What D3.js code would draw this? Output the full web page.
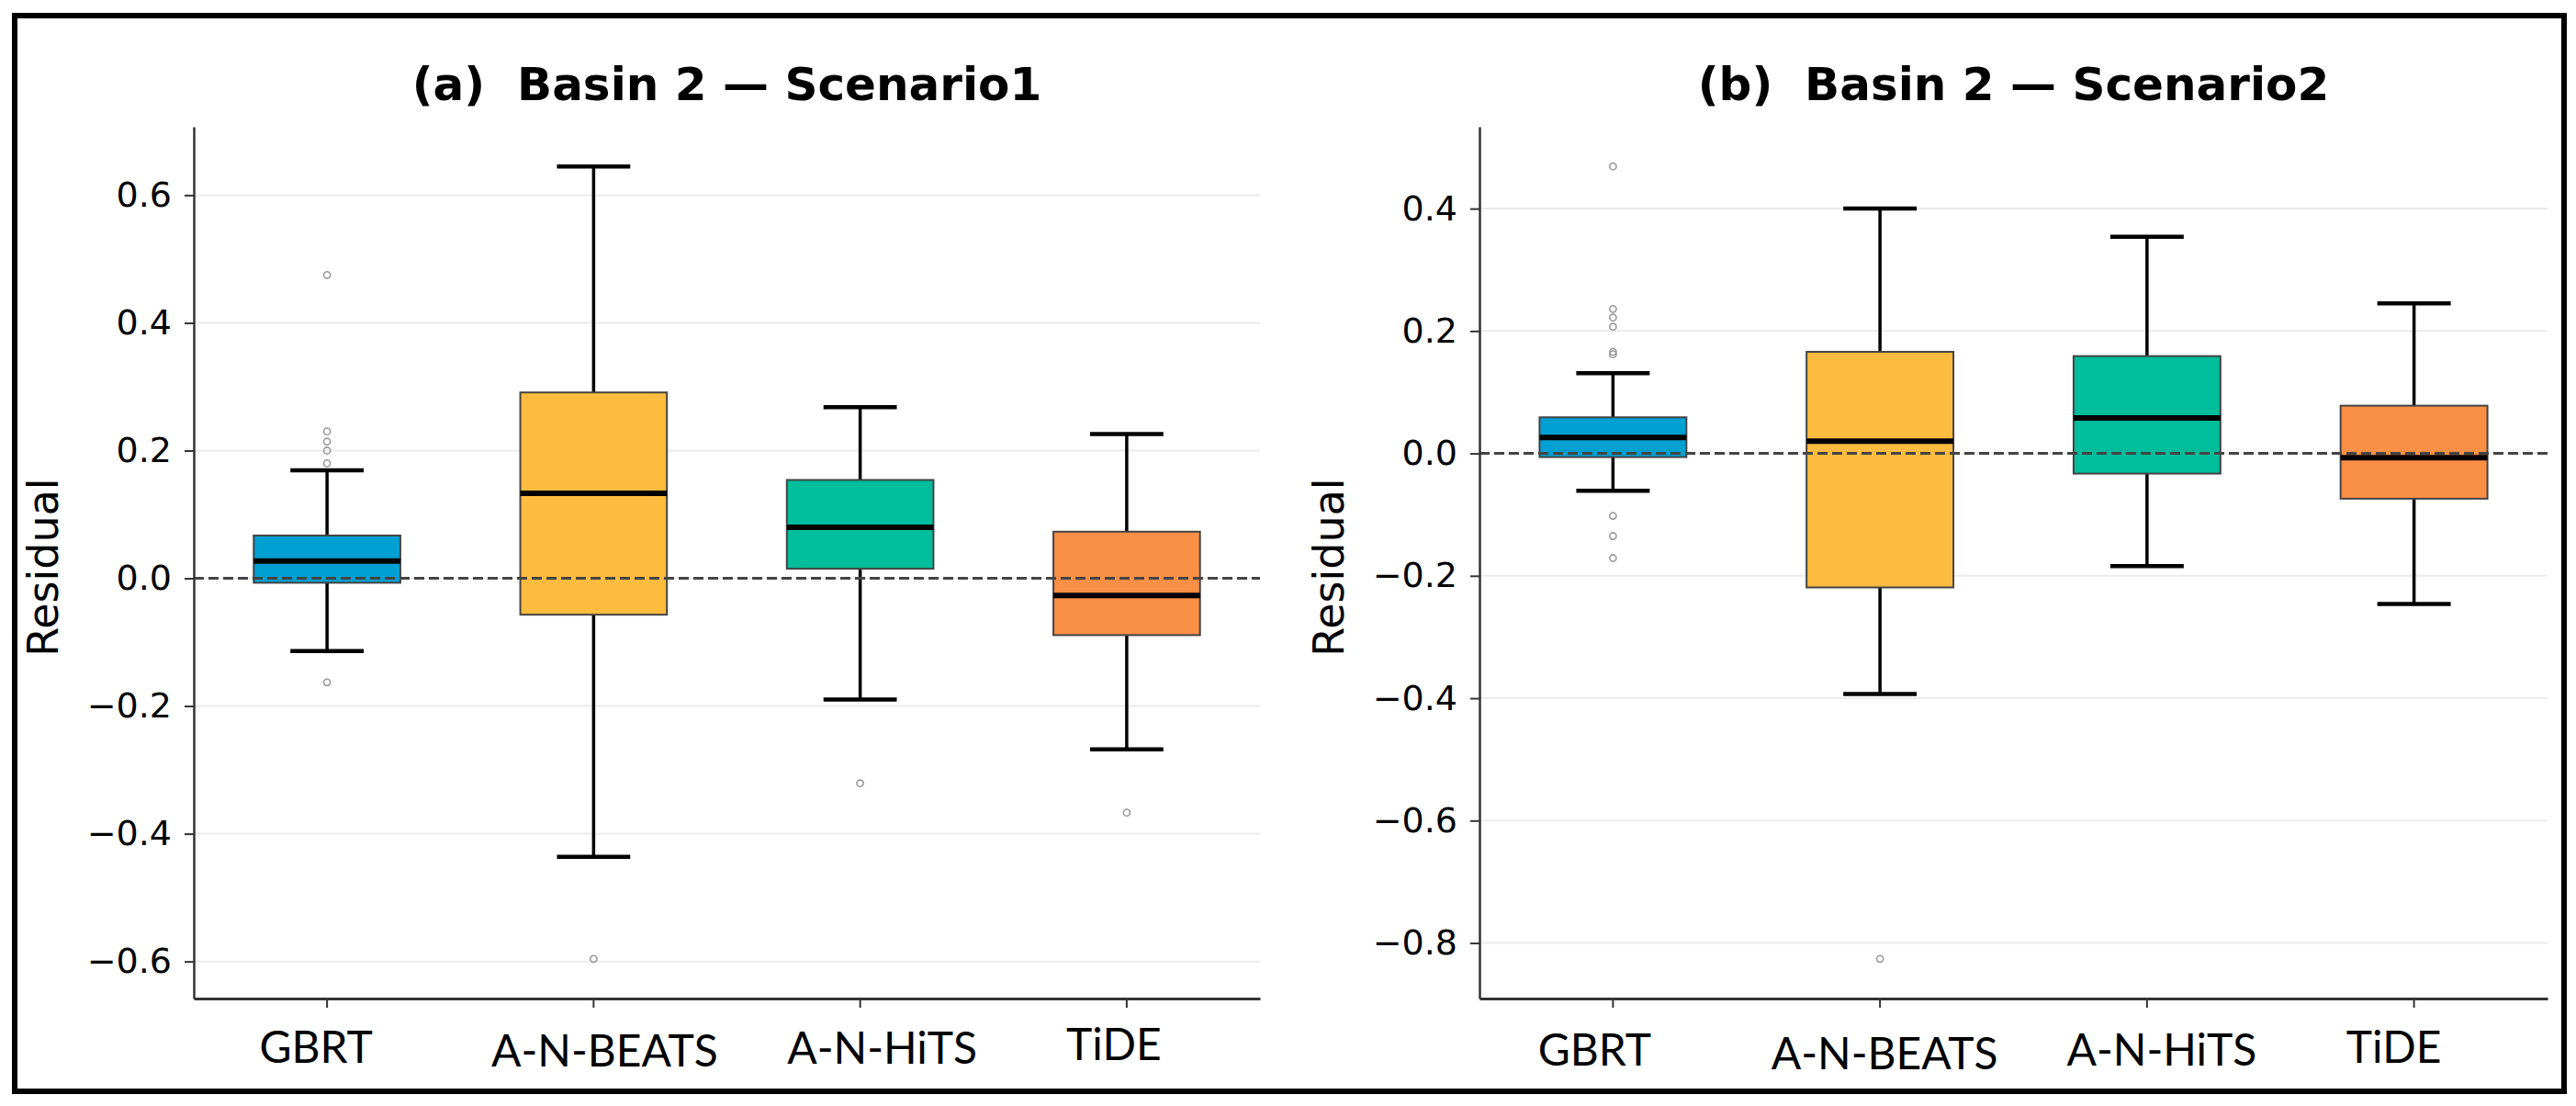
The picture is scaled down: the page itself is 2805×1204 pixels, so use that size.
<!DOCTYPE html>
<html>
<head>
<meta charset="utf-8">
<script src="https://cdn.jsdelivr.net/npm/d3@7"></script>
<style>
  html, body { margin: 0; padding: 0; background: #fff; }
  svg { display: block; }
</style>
</head>
<body>
<svg id="chart" width="2805" height="1204"></svg>
<script>
// models on the x axis
var models = ["GBRT", "A-N-BEATS", "A-N-HiTS", "TiDE"];

// (a) Scenario1 box statistics
var s1Lower  = [-0.114, -0.436, -0.190, -0.268];
var s1Q1     = [-0.007, -0.057,  0.015, -0.089];
var s1Median = [ 0.027,  0.133,  0.080, -0.027];
var s1Q3     = [ 0.067,  0.291,  0.154,  0.073];
var s1Upper  = [ 0.169,  0.645,  0.268,  0.226];
var s1Outliers = [[0.475, 0.230, 0.214, 0.200, 0.180, -0.163], [-0.596], [-0.321], [-0.367]];
var s1Ticks = [-0.6, -0.4, -0.2, 0.0, 0.2, 0.4, 0.6];

// (b) Scenario2 box statistics
var s2Lower  = [-0.061, -0.393, -0.184, -0.246];
var s2Q1     = [-0.006, -0.219, -0.033, -0.074];
var s2Median = [ 0.026,  0.020,  0.058, -0.007];
var s2Q3     = [ 0.059,  0.166,  0.159,  0.078];
var s2Upper  = [ 0.131,  0.400,  0.354,  0.245];
var s2Outliers = [[0.469, 0.236, 0.222, 0.207, 0.166, 0.162, -0.102, -0.135, -0.171], [-0.826], [], []];
var s2Ticks = [-0.8, -0.6, -0.4, -0.2, 0.0, 0.2, 0.4];

var colors = ["#00a0d2", "#fdbb3f", "#00bd9b", "#fa8f46"];

function rows(lower, q1, med, q3, upper, outl) {
  return models.map(function (m, i) {
    return { name: m, lower: lower[i], q1: q1[i], median: med[i], q3: q3[i], upper: upper[i], outliers: outl[i], color: colors[i] };
  });
}

var panels = [
  { title: "(a)  Basin 2 \u2014 Scenario1", left: 211, right: 1372, ticks: s1Ticks,
    data: rows(s1Lower, s1Q1, s1Median, s1Q3, s1Upper, s1Outliers),
    nudge: [[-12, -1], [12, 3], [24, 0], [-14, -4]] },
  { title: "(b)  Basin 2 \u2014 Scenario2", left: 1611, right: 2774, ticks: s2Ticks,
    data: rows(s2Lower, s2Q1, s2Median, s2Q3, s2Upper, s2Outliers),
    nudge: [[-20, 2], [5, 6], [16, 2], [-22, -1]] }
];

var plotTop = 138, plotBottom = 1087;
var svg = d3.select("#chart");

svg.append("rect")
  .attr("x", 16).attr("y", 17)
  .attr("width", 2776).attr("height", 1171)
  .attr("fill", "none").attr("stroke", "#000").attr("stroke-width", 6);

panels.forEach(function (p) {
  var all = [];
  p.data.forEach(function (d) {
    all.push(d.lower, d.upper);
    d.outliers.forEach(function (o) { all.push(o); });
  });
  var lo = d3.min(all), hi = d3.max(all), pad = (hi - lo) * 0.05;

  var y = d3.scaleLinear().domain([lo - pad, hi + pad]).range([plotBottom, plotTop]);
  var x = d3.scaleBand().domain(models).range([p.left, p.right]).padding(0);
  var bw = x.bandwidth(), boxW = bw * 0.55, capW = boxW / 2;
  var cx = function (d) { return x(d.name) + bw / 2; };

  var g = svg.append("g");

  // grid
  g.selectAll(".grid")
    .data(p.ticks)
    .enter()
    .append("line")
    .attr("x1", p.left).attr("x2", p.right)
    .attr("y1", function (d) { return y(d); })
    .attr("y2", function (d) { return y(d); })
    .attr("stroke", "#ebebeb").attr("stroke-width", 2);

  var box = g.selectAll(".box")
    .data(p.data)
    .enter()
    .append("g");

  // whiskers
  box.append("line")
    .attr("x1", cx).attr("x2", cx)
    .attr("y1", function (d) { return y(d.q3); })
    .attr("y2", function (d) { return y(d.upper); })
    .attr("stroke", "#000").attr("stroke-width", 3.5);
  box.append("line")
    .attr("x1", cx).attr("x2", cx)
    .attr("y1", function (d) { return y(d.q1); })
    .attr("y2", function (d) { return y(d.lower); })
    .attr("stroke", "#000").attr("stroke-width", 3.5);

  // caps
  ["upper", "lower"].forEach(function (k) {
    box.append("line")
      .attr("x1", function (d) { return cx(d) - capW / 2; })
      .attr("x2", function (d) { return cx(d) + capW / 2; })
      .attr("y1", function (d) { return y(d[k]); })
      .attr("y2", function (d) { return y(d[k]); })
      .attr("stroke", "#000").attr("stroke-width", 4.5);
  });

  box.append("rect")
    .attr("x", function (d) { return cx(d) - boxW / 2; })
    .attr("width", boxW)
    .attr("y", function (d) { return y(d.q3); })
    .attr("height", function (d) { return y(d.q1) - y(d.q3); })
    .attr("fill", function (d) { return d.color; })
    .attr("stroke", "#444").attr("stroke-width", 2);

  box.append("line")
    .attr("x1", function (d) { return cx(d) - boxW / 2; })
    .attr("x2", function (d) { return cx(d) + boxW / 2; })
    .attr("y1", function (d) { return y(d.median); })
    .attr("y2", function (d) { return y(d.median); })
    .attr("stroke", "#000").attr("stroke-width", 6);

  box.each(function (d) {
    d3.select(this).selectAll("circle")
      .data(d.outliers)
      .enter()
      .append("circle")
      .attr("cx", cx(d))
      .attr("cy", function (o) { return y(o); })
      .attr("r", 3.6)
      .attr("fill", "none").attr("stroke", "#999").attr("stroke-width", 1.6);
  });

  // zero line
  g.append("line")
    .attr("x1", p.left).attr("x2", p.right)
    .attr("y1", y(0)).attr("y2", y(0))
    .attr("stroke", "#444").attr("stroke-width", 3)
    .attr("stroke-dasharray", "11,5");

  // axes
  var ya = g.append("g")
    .attr("transform", "translate(" + p.left + ",0)")
    .call(d3.axisLeft(y).tickValues(p.ticks).tickFormat(d3.format(".1f")).tickSize(10).tickSizeOuter(0).tickPadding(14));
  ya.select(".domain").attr("stroke", "#333").attr("stroke-width", 2.5);
  ya.selectAll(".tick line").attr("stroke", "#333").attr("stroke-width", 2);
  ya.selectAll(".tick text")
    .style("font-family", "'DejaVu Sans'").style("font-size", "38px").attr("fill", "#000");

  var xa = g.append("g")
    .attr("transform", "translate(0," + plotBottom + ")")
    .call(d3.axisBottom(x).tickSize(10).tickSizeOuter(0));
  xa.select(".domain").attr("stroke", "#333").attr("stroke-width", 3);
  xa.selectAll(".tick line").attr("stroke", "#333").attr("stroke-width", 2);
  xa.selectAll(".tick text")
    .attr("y", 71).attr("dy", 0)
    .attr("dx", function (d, i) { return p.nudge[i][0]; })
    .attr("transform", function (d, i) { return "translate(0," + p.nudge[i][1] + ")"; })
    .style("font-family", "Lato").style("font-size", "48px").attr("fill", "#000");

  g.append("text")
    .attr("x", (p.left + p.right) / 2)
    .attr("y", 109)
    .attr("text-anchor", "middle")
    .style("white-space", "pre")
    .style("font-family", "'DejaVu Sans'").style("font-weight", "bold").style("font-size", "50px")
    .text(p.title);

  g.append("text")
    .attr("transform", "translate(" + (p.left - 148) + "," + ((plotTop + plotBottom) / 2 + 5) + ") rotate(-90)")
    .attr("text-anchor", "middle")
    .style("font-family", "'DejaVu Sans'").style("font-size", "46px")
    .text("Residual");
});
</script>
</body>
</html>
